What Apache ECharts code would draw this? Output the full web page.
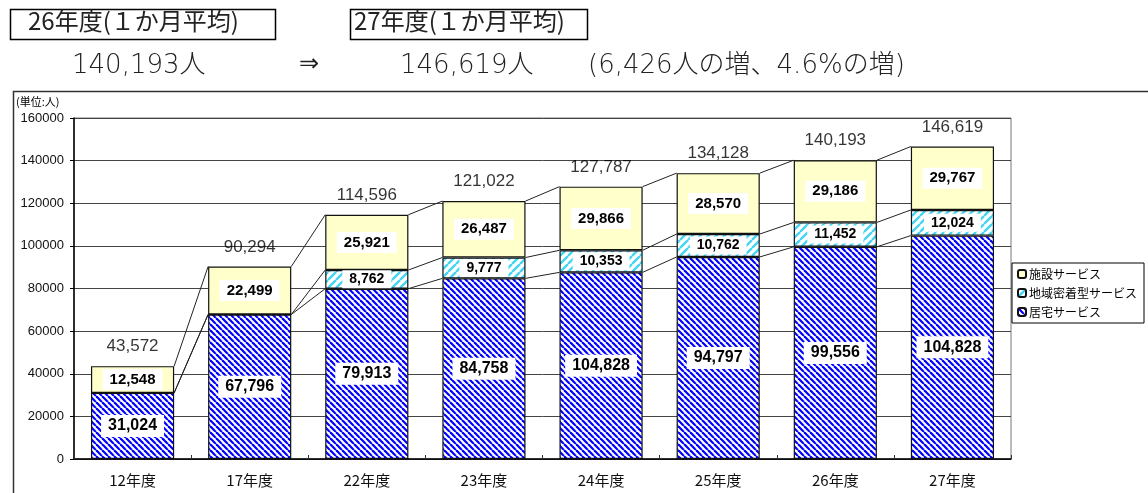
<!DOCTYPE html>
<html>
<head>
<meta charset="utf-8">
<script src="https://cdn.jsdelivr.net/npm/echarts@6/dist/echarts.min.js"></script>
<style>
  html, body { margin: 0; padding: 0; background: #fff; }
  #chart { width: 1148px; height: 493px; }
</style>
</head>
<body>
<div id="chart"></div>
<script>
// 年度
var categories = ['12年度', '17年度', '22年度', '23年度', '24年度', '25年度', '26年度', '27年度'];
// 居宅サービス (bar heights)
var home = [31024, 67796, 79913, 84758, 87568, 94797, 99556, 104828];
// labels printed on the 居宅 bars (24年度 shows 104,828 in the original)
var homeLabels = ['31,024', '67,796', '79,913', '84,758', '104,828', '94,797', '99,556', '104,828'];
// 地域密着型サービス
var community = [0, 0, 8762, 9777, 10353, 10762, 11452, 12024];
// 施設サービス
var facility = [12548, 22499, 25921, 26487, 29866, 28570, 29186, 29767];
// totals shown above bars
var totals = [43572, 90294, 114596, 121022, 127787, 134128, 140193, 146619];
var yTicks = { min: 0, max: 160000, interval: 20000 };

var BAR_RATIO = 0.71;
var numFont = '"Liberation Sans Narrow", "Liberation Sans", Arial, sans-serif';
var jpFont = '"Noto Sans CJK JP", sans-serif';
var headFont = '"DejaVu Sans", "Noto Sans CJK JP", sans-serif';

function fmt(v) { return Number(v).toLocaleString('en-US'); }

// 斜線パターン
function stripes(color, dir, period, width) {
    var c = document.createElement('canvas');
    c.width = c.height = period;
    var g = c.getContext('2d');
    g.fillStyle = '#fff';
    g.fillRect(0, 0, period, period);
    g.strokeStyle = color;
    g.lineWidth = width;
    for (var k = -1; k <= 1; k++) {
        g.beginPath();
        if (dir > 0) {
            g.moveTo(k * period, 0);
            g.lineTo(k * period + period, period);
        } else {
            g.moveTo(k * period, period);
            g.lineTo(k * period + period, 0);
        }
        g.stroke();
    }
    return c;
}

var bluePattern = { image: stripes('#0000ff', 1, 6, 2.2), repeat: 'repeat' };
var cyanPattern = { image: stripes('#44d4f4', -1, 8, 2.4), repeat: 'repeat' };

// series lines between bars
var lineData = [];
for (var i = 0; i < categories.length - 1; i++) {
    lineData.push([
        i,
        home[i], home[i + 1],
        home[i] + community[i], home[i + 1] + community[i + 1],
        home[i] + community[i] + facility[i], home[i + 1] + community[i + 1] + facility[i + 1]
    ]);
}

var segLabel = {
    show: true,
    position: 'inside',
    backgroundColor: '#fff',
    padding: [3, 7],
    color: '#000',
    fontWeight: 'bold',
    fontSize: 15,
    fontFamily: numFont
};
var barBorder = { borderColor: '#111', borderWidth: 1.2 };

var myChart = echarts.init(document.getElementById('chart'));
var option = {
    animation: false,
    grid: {
        left: 74,
        right: 137,
        top: 118,
        bottom: 34,
        show: true,
        borderColor: '#777',
        borderWidth: 1
    },
    legend: {
        orient: 'vertical',
        left: 1012,
        top: 263,
        data: ['施設サービス', '地域密着型サービス', '居宅サービス'],
        itemWidth: 8,
        itemHeight: 8,
        itemGap: 7,
        padding: [5, 7, 5, 5],
        borderColor: '#000',
        borderWidth: 1,
        textStyle: { fontSize: 12, fontFamily: jpFont, color: '#000', padding: [0, 0, 0, -2] }
    },
    graphic: [
        { type: 'rect', left: 11, top: 89, shape: { width: 1160, height: 430 }, style: { fill: 'none', stroke: '#333', lineWidth: 1.5 }, silent: true },
        { type: 'rect', left: 8, top: 7, shape: { width: 265, height: 30 }, style: { fill: 'none', stroke: '#000', lineWidth: 1.5 } },
        { type: 'text', left: 28, top: 9, style: { text: '26年度(１か月平均)', fontSize: 24, fontFamily: jpFont, fill: '#222' } },
        { type: 'rect', left: 348, top: 7, shape: { width: 237, height: 30 }, style: { fill: 'none', stroke: '#000', lineWidth: 1.5 } },
        { type: 'text', left: 354, top: 9, style: { text: '27年度(１か月平均)', fontSize: 24, fontFamily: jpFont, fill: '#222' } },
        { type: 'text', left: 72, top: 53, style: { text: '140,193人', fontSize: 26, fontFamily: headFont, fontWeight: 300, fill: '#222' } },
        { type: 'text', left: 299, top: 53, style: { text: '⇒', fontSize: 24, fontFamily: headFont, fill: '#222' } },
        { type: 'text', left: 400, top: 53, style: { text: '146,619人', fontSize: 26, fontFamily: headFont, fontWeight: 300, fill: '#222' } },
        { type: 'text', left: 588, top: 53, style: { text: '(6,426人の増、4.6%の増)', fontSize: 26, fontFamily: headFont, fontWeight: 300, fill: '#222' } },
        { type: 'text', left: 16, top: 96, style: { text: '(単位:人)', fontSize: 11, fontFamily: jpFont, fill: '#000' } }
    ],
    xAxis: {
        type: 'category',
        data: categories,
        axisLine: { lineStyle: { color: '#000', width: 1.5 } },
        axisTick: { show: true, inside: true, length: 4, lineStyle: { color: '#333' } },
        axisLabel: { fontSize: 15, fontFamily: jpFont, color: '#111', margin: 14 },
        splitLine: { show: false }
    },
    yAxis: {
        type: 'value',
        min: yTicks.min,
        max: yTicks.max,
        interval: yTicks.interval,
        axisLine: { show: true, lineStyle: { color: '#000', width: 1.5 } },
        axisTick: { show: true, length: 4, lineStyle: { color: '#000' } },
        axisLabel: {
            fontSize: 13,
            fontFamily: 'Arial, "Liberation Sans", sans-serif',
            color: '#111',
            margin: 10,
            formatter: function (v) { return String(v); }
        },
        splitLine: { show: true, lineStyle: { color: '#444', width: 1 } }
    },
    series: [
        {
            name: '居宅サービス',
            type: 'bar',
            stack: 'total',
            barWidth: (BAR_RATIO * 100) + '%',
            data: home,
            itemStyle: Object.assign({ color: bluePattern }, barBorder),
            label: Object.assign({}, segLabel, {
                fontSize: 16,
                formatter: function (p) { return homeLabels[p.dataIndex]; }
            })
        },
        {
            name: '地域密着型サービス',
            type: 'bar',
            stack: 'total',
            data: community.map(function (v) {
                return v ? v : { value: v, label: { show: false } };
            }),
            itemStyle: Object.assign({ color: cyanPattern }, barBorder),
            label: Object.assign({}, segLabel, {
                fontSize: 14,
                padding: [2, 7],
                formatter: function (p) { return fmt(p.value); }
            })
        },
        {
            name: '施設サービス',
            type: 'bar',
            stack: 'total',
            data: facility,
            itemStyle: Object.assign({ color: '#ffffcc' }, barBorder),
            label: Object.assign({}, segLabel, {
                formatter: function (p) { return fmt(p.value); }
            })
        },
        {
            name: '合計',
            type: 'scatter',
            data: totals,
            symbolSize: 0,
            z: 5,
            label: {
                show: true,
                position: 'top',
                distance: 11,
                fontSize: 17,
                fontFamily: 'Arial, "Liberation Sans", sans-serif',
                color: '#000',
                formatter: function (p) { return fmt(p.value); }
            }
        },
        {
            name: 'lines',
            type: 'custom',
            data: lineData,
            encode: { x: 0, y: [1, 2, 3, 4, 5, 6] },
            z: 1,
            silent: true,
            renderItem: function (params, api) {
                var idx = api.value(0);
                var half = api.size([1, 0])[0] * BAR_RATIO / 2;
                var children = [];
                for (var k = 0; k < 3; k++) {
                    var a = api.coord([idx, api.value(1 + 2 * k)]);
                    var b = api.coord([idx + 1, api.value(2 + 2 * k)]);
                    children.push({
                        type: 'line',
                        shape: { x1: a[0] + half, y1: a[1], x2: b[0] - half, y2: b[1] },
                        style: { stroke: '#222', lineWidth: 1 }
                    });
                }
                return { type: 'group', children: children };
            }
        }
    ]
};
myChart.setOption(option);
</script>
</body>
</html>
